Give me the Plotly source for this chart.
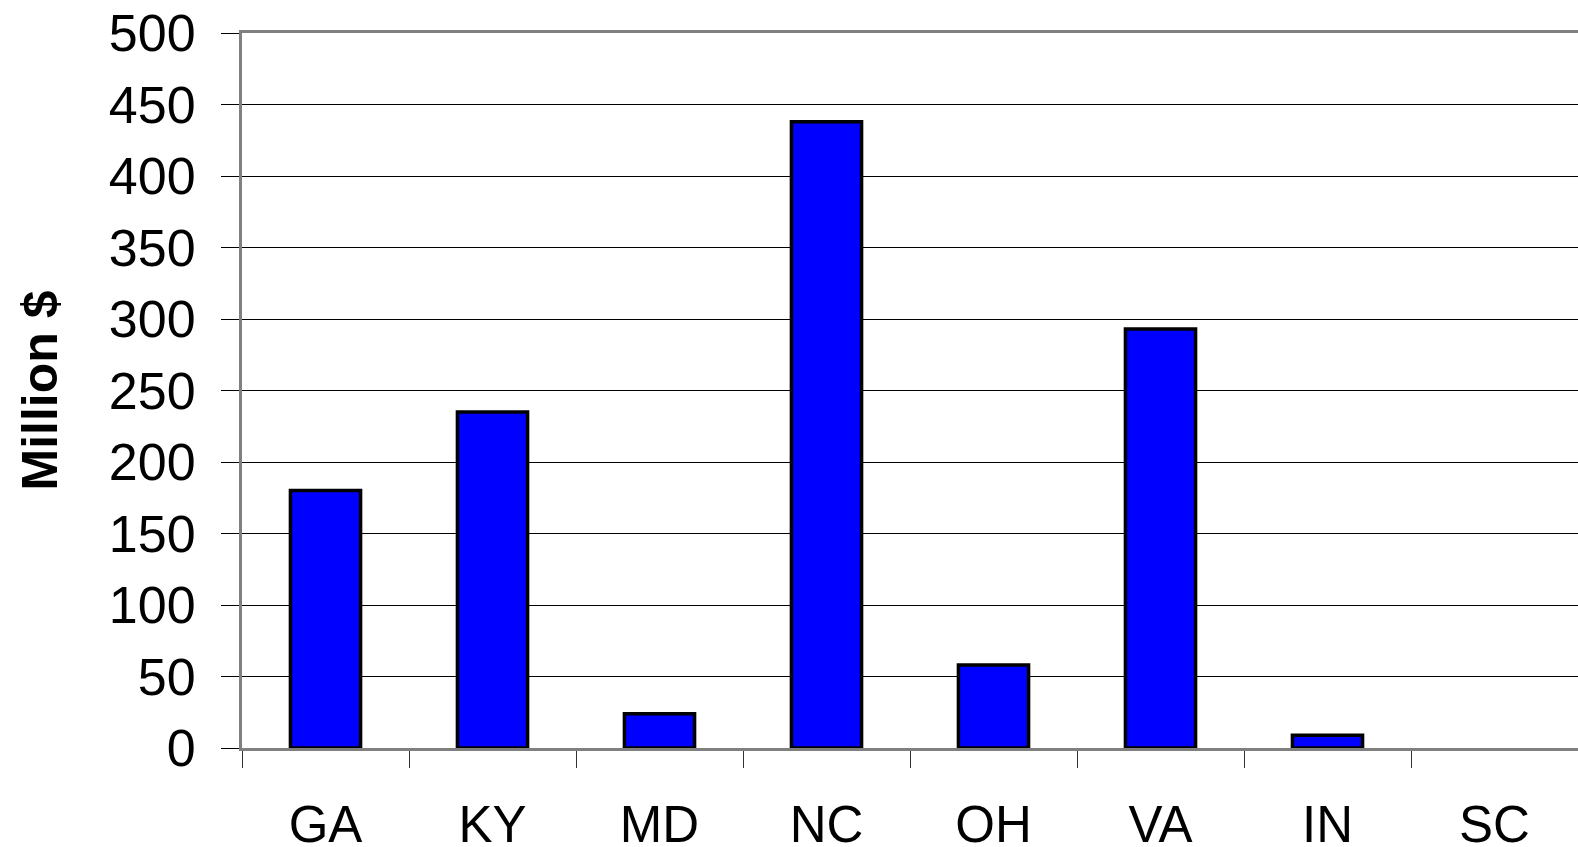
import plotly.graph_objects as go

states = ["GA", "KY", "MD", "NC", "OH", "VA", "IN", "SC"]
values = [180, 235, 24, 438, 58, 293, 9, None]
y_ticks = [0, 50, 100, 150, 200, 250, 300, 350, 400, 450, 500]

FONT = "Arial, Liberation Sans, sans-serif"

fig = go.Figure(
    go.Bar(
        x=states,
        y=values,
        width=0.42,
        marker=dict(color="#0000FF", line=dict(color="black", width=3.5)),
    )
)

fig.update_layout(
    width=1578,
    height=847,
    margin=dict(l=242, r=0, t=33, b=99),
    paper_bgcolor="white",
    plot_bgcolor="white",
    showlegend=False,
    font=dict(family=FONT, color="black"),
)

fig.update_xaxes(
    type="category",
    categoryorder="array",
    categoryarray=states,
    automargin=False,
    tickson="boundaries",
    ticks="outside",
    ticklen=17,
    tickwidth=1,
    tickcolor="#333333",
    tickfont=dict(size=51, family=FONT, color="black"),
    ticklabelstandoff=30,
    showline=True,
    linecolor="#808080",
    linewidth=3,
    mirror=True,
    showgrid=False,
    zeroline=False,
)

fig.update_yaxes(
    range=[0, 500],
    automargin=False,
    tickvals=y_ticks,
    ticktext=[str(v) for v in y_ticks],
    ticks="outside",
    ticklen=18,
    tickwidth=1,
    tickcolor="black",
    tickfont=dict(size=52, family=FONT, color="black"),
    ticklabelstandoff=15,
    showline=True,
    linecolor="#808080",
    linewidth=3,
    showgrid=True,
    gridcolor="black",
    gridwidth=1,
    zeroline=False,
    title=dict(text="<b>Million $</b>", font=dict(size=50, family=FONT, color="black"), standoff=36),
)

fig.write_html(
    "out.html",
    config={"displayModeBar": False},
    post_script="document.body.style.margin='0';document.body.style.overflow='hidden';document.documentElement.style.overflow='hidden';",
)
